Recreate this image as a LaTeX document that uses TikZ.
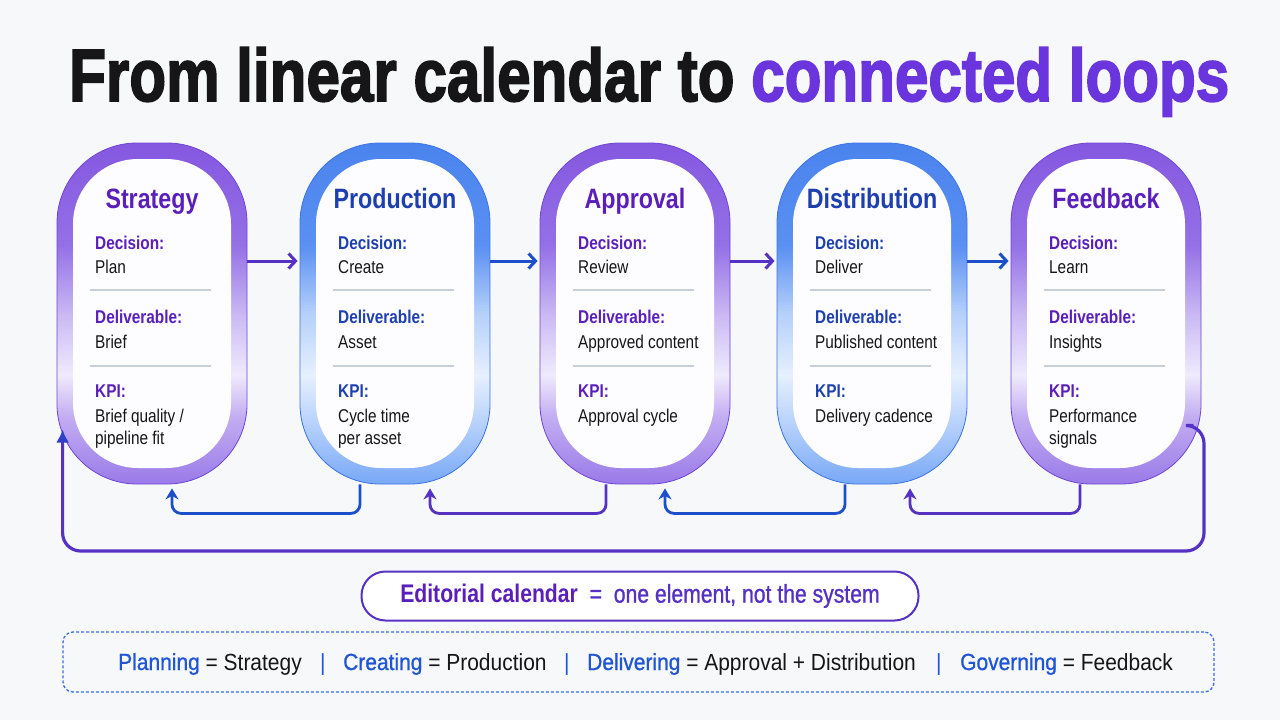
\documentclass[tikz,border=0pt]{standalone}
\usepackage{fontspec}
\usepackage{graphicx}
\setmainfont{Liberation Sans}[FakeStretch=0.83]
\newfontfamily\titlefont{Liberation Sans Bold}[FakeBold=2.5]
\newfontfamily\medfont{Liberation Sans}[FakeStretch=0.83, FakeBold=1]
\newfontfamily\legfont{Liberation Sans}[FakeStretch=0.9]
\newfontfamily\legmed{Liberation Sans}[FakeStretch=0.9, FakeBold=1]
\usetikzlibrary{arrows.meta}

\definecolor{bg}{HTML}{F7F8FA}
\definecolor{ink}{HTML}{161618}
\definecolor{tpurple}{HTML}{6A35DD}
\definecolor{hpurple}{HTML}{5A1FBA}
\definecolor{hblue}{HTML}{1E3FAE}
\definecolor{apurple}{HTML}{5632C4}
\definecolor{ablue}{HTML}{1D4FCB}
\definecolor{sepc}{HTML}{C7CFDA}
\definecolor{innerfill}{HTML}{FDFDFF}
\definecolor{pedge}{HTML}{6E46D6}
\definecolor{bedge}{HTML}{3C74E4}
\definecolor{lblue}{HTML}{1F55D6}
\definecolor{dashc}{HTML}{3A6FE0}
\definecolor{tipc}{HTML}{2F3FCC}
% purple ring colours
\definecolor{pA}{HTML}{8558E0}
\definecolor{pB}{HTML}{9470E6}
\definecolor{pC}{HTML}{C9B8F3}
\definecolor{pD}{HTML}{EFEAFD}
\definecolor{pE}{HTML}{C3AEF2}
\definecolor{pF}{HTML}{9A7AE8}
% blue ring colours
\definecolor{bA}{HTML}{4B83EE}
\definecolor{bB}{HTML}{5A90F2}
\definecolor{bC}{HTML}{B5D0FA}
\definecolor{bD}{HTML}{E6F0FE}
\definecolor{bE}{HTML}{B8D2FC}
\definecolor{bF}{HTML}{78A8F6}

\pgfdeclareverticalshading{pring}{100bp}{color(0bp)=(pF); color(25bp)=(pF); color(35bp)=(pE); color(41bp)=(pD); color(50bp)=(pC); color(60bp)=(pB); color(75bp)=(pA); color(100bp)=(pA)}
\pgfdeclareverticalshading{bring}{100bp}{color(0bp)=(bF); color(25bp)=(bF); color(34bp)=(bE); color(41bp)=(bD); color(50bp)=(bC); color(60bp)=(bB); color(75bp)=(bA); color(100bp)=(bA)}

\tikzset{
  ringP/.style={shade, shading=pring, draw=pedge, line width=0.8pt, rounded corners=80pt,
    minimum width=190pt, minimum height=341pt, inner sep=0pt},
  ringB/.style={shade, shading=bring, draw=bedge, line width=0.8pt, rounded corners=80pt,
    minimum width=190pt, minimum height=341pt, inner sep=0pt},
  innerbox/.style={fill=innerfill, rounded corners=65pt, minimum width=158pt,
    minimum height=309pt, inner sep=0pt},
  hd/.style={anchor=base, inner sep=0pt, font=\fontsize{28}{30}\selectfont\bfseries},
  lbl/.style={anchor=base west, inner sep=0pt, font=\fontsize{18.5}{22}\selectfont\bfseries},
  body/.style={anchor=base west, inner sep=0pt, text=ink, font=\fontsize{18.5}{22}\selectfont},
  sepline/.style={draw=sepc, line width=1.2pt},
  harrow/.style={line width=3pt, -{Straight Barb[length=7pt,width=15pt,line width=3pt]}, shorten >=2pt},
  retarrow/.style={line width=2.8pt, rounded corners=9pt, -{Stealth[length=11pt,width=13pt,inset=3.5pt]}},
  bigloop/.style={line width=3.2pt, draw=apurple, rounded corners=18pt, -{Latex[length=13pt,width=13pt,color=tipc]}},
  pill/.style={draw=apurple, line width=2pt, fill=white, rounded corners=24pt,
    minimum width=557pt, minimum height=49pt, inner sep=0pt},
  dashbox/.style={draw=dashc, line width=1.3pt, dash pattern=on 3pt off 2pt, rounded corners=10pt,
    minimum width=1151pt, minimum height=60pt, inner sep=0pt},
  leg/.style={anchor=base west, inner sep=0pt, text=ink, font=\fontsize{23.3}{27}\selectfont\legfont},
}

\newcommand\mycapsule[9]{%
  \node[#3] (#1) at (#2,313.5) {};
  \node[innerbox] (#1-in) at (#1.center) {};
  \node[hd, text=#4] (#1-t) at (#2,208) {#5};
  \node[lbl, text=#4] (#1-d) at (#2-57,249) {Decision:};
  \node[body] (#1-dv) at (#2-57,273) {#6};
  \draw[sepline] (#2-62,290) -- (#2+59,290);
  \node[lbl, text=#4] (#1-l) at (#2-57,323) {Deliverable:};
  \node[body] (#1-lv) at (#2-57,348) {#7};
  \draw[sepline] (#2-62,366) -- (#2+59,366);
  \node[lbl, text=#4] (#1-k) at (#2-57,397) {KPI:};
  \node[body] (#1-k1) at (#2-57,422) {#8};
  \node[body] (#1-k2) at (#2-57,444) {#9};
}

\begin{document}
\begin{tikzpicture}[x=1pt,y=-1pt]
\fill[bg] (0,0) rectangle (1280,720);
\useasboundingbox (0,0) rectangle (1280,720);

\node[anchor=base west, inner sep=0pt, text=ink] (title) at (69,101)
  {\resizebox{1160pt}{\height}{\titlefont\fontsize{74}{80}\selectfont From linear calendar to \textcolor{tpurple}{connected loops}}};

\mycapsule{strat}{152}{ringP}{hpurple}{Strategy}{Plan}{Brief}{Brief quality /}{pipeline fit}
\mycapsule{prod}{395}{ringB}{hblue}{Production}{Create}{Asset}{Cycle time}{per asset}
\mycapsule{appr}{635}{ringP}{hpurple}{Approval}{Review}{Approved content}{Approval cycle}{}
\mycapsule{dist}{872}{ringB}{hblue}{Distribution}{Deliver}{Published content}{Delivery cadence}{}
\mycapsule{feed}{1106}{ringP}{hpurple}{Feedback}{Learn}{Insights}{Performance}{signals}

% forward arrows
\draw[harrow, apurple] ([yshift=52.5pt]strat.east) -- ([yshift=52.5pt]prod.west);
\draw[harrow, ablue] ([yshift=52.5pt]prod.east) -- ([yshift=52.5pt]appr.west);
\draw[harrow, apurple] ([yshift=52.5pt]appr.east) -- ([yshift=52.5pt]dist.west);
\draw[harrow, ablue] ([yshift=52.5pt]dist.east) -- ([yshift=52.5pt]feed.west);

% return arrows
\draw[retarrow, ablue] ([xshift=-35pt]prod.south) -- ++(0,29) -| ([xshift=20pt,yshift=-4pt]strat.south);
\draw[retarrow, apurple] ([xshift=-29pt]appr.south) -- ++(0,29) -| ([xshift=35pt,yshift=-4pt]prod.south);
\draw[retarrow, ablue] ([xshift=-27pt]dist.south) -- ++(0,29) -| ([xshift=30pt,yshift=-4pt]appr.south);
\draw[retarrow, apurple] ([xshift=-26pt]feed.south) -- ++(0,29) -| ([xshift=38pt,yshift=-4pt]dist.south);

% big loop
\coordinate (lstart) at ([xshift=-8pt,yshift=-112pt]feed.east);
\coordinate (lcorner) at (1204,551);
\draw[bigloop] (lstart) -| (lcorner) -| ([xshift=6pt,yshift=-116pt]strat.west);

% calendar pill
\node[pill] (cal) at (640,596) {\fontsize{25.5}{28}\selectfont\textcolor{hpurple}{\bfseries Editorial calendar}\ \ \textcolor{apurple}{\medfont =\ \ one element, not the system}};

% legend
\node[dashbox] (legend) at (638.5,662) {};
\node[leg] (lg1) at (118,670) {\textcolor{lblue}{\legmed Planning} = Strategy};
\node[leg, text=lblue] (sp1) at (320,670) {|};
\node[leg] (lg2) at (343,670) {\textcolor{lblue}{\legmed Creating} = Production};
\node[leg, text=lblue] (sp2) at (564,670) {|};
\node[leg] (lg3) at (587,670) {\textcolor{lblue}{\legmed Delivering} = Approval + Distribution};
\node[leg, text=lblue] (sp3) at (936,670) {|};
\node[leg] (lg4) at (960,670) {\textcolor{lblue}{\legmed Governing} = Feedback};
\end{tikzpicture}
\end{document}
